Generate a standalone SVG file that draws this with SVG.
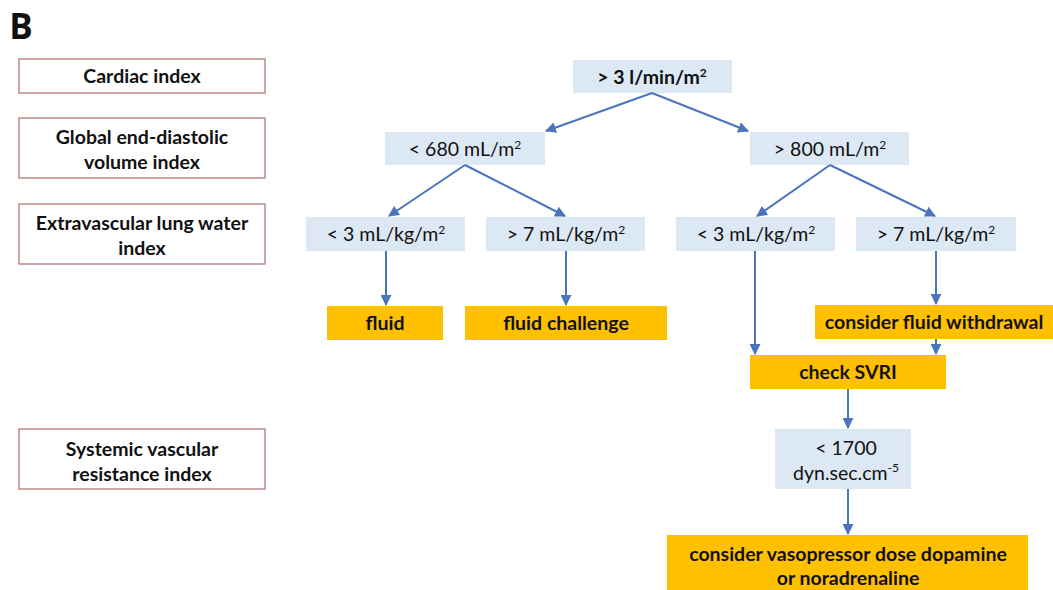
<svg xmlns="http://www.w3.org/2000/svg" width="1053" height="590" viewBox="0 0 1053 590">
<style>
text{font-family:Lato,"Open Sans","Liberation Sans",sans-serif;fill:#111;text-anchor:middle}
.lab rect{fill:#fff;stroke:#b07878;stroke-width:1.3}
.lab text{font-size:19.5px;font-weight:bold}
.blue rect{fill:#dce8f4}
.blue text{font-size:19.5px}
.org rect{fill:#ffc000}
.org text{font-size:19.5px;font-weight:bold}
.conn line{stroke:#4a74be;stroke-width:2;marker-end:url(#ah)}
</style>
<defs>
<marker id="ah" viewBox="0 0 10 10" refX="9" refY="5" markerWidth="5.5" markerHeight="5.5" orient="auto" markerUnits="strokeWidth">
<path d="M0,0 L10,5 L0,10 z" fill="#4a74be"/>
</marker>
</defs>
<rect width="1053" height="590" fill="#fff"/>
<text x="21" y="39" style="font-size:35px;font-weight:bold;font-family:'Open Sans','Liberation Sans',sans-serif">B</text>

<g id="lab-ci" class="lab"><rect x="19" y="59" width="246" height="34"/><text x="142" y="83">Cardiac index</text></g>
<g id="lab-gedvi" class="lab"><rect x="19" y="118" width="246" height="60"/><text x="142" y="144">Global end-diastolic</text><text x="142" y="169">volume index</text></g>
<g id="lab-evlwi" class="lab"><rect x="19" y="204" width="246" height="60"/><text x="142" y="230">Extravascular lung water</text><text x="142" y="255">index</text></g>
<g id="lab-svri" class="lab"><rect x="19" y="429" width="246" height="60"/><text x="142" y="456">Systemic vascular</text><text x="142" y="481">resistance index</text></g>

<g id="n-ci" class="blue"><rect x="573" y="60" width="159" height="33"/><text x="652" y="84" style="font-weight:bold">&gt; 3 l/min/m<tspan dy="-7" font-size="12">2</tspan></text></g>
<g id="n-g680" class="blue"><rect x="385" y="132" width="160" height="33"/><text x="465" y="156">&lt; 680 mL/m<tspan dy="-7" font-size="12">2</tspan></text></g>
<g id="n-g800" class="blue"><rect x="750" y="132" width="159" height="33"/><text x="830" y="156">&gt; 800 mL/m<tspan dy="-7" font-size="12">2</tspan></text></g>
<g id="n-e1" class="blue"><rect x="306" y="217" width="159" height="34"/><text x="386" y="241">&lt; 3 mL/kg/m<tspan dy="-7" font-size="12">2</tspan></text></g>
<g id="n-e2" class="blue"><rect x="486" y="217" width="159" height="34"/><text x="566" y="241">&gt; 7 mL/kg/m<tspan dy="-7" font-size="12">2</tspan></text></g>
<g id="n-e3" class="blue"><rect x="676" y="217" width="159" height="34"/><text x="756" y="241">&lt; 3 mL/kg/m<tspan dy="-7" font-size="12">2</tspan></text></g>
<g id="n-e4" class="blue"><rect x="856" y="217" width="160" height="34"/><text x="936" y="241">&gt; 7 mL/kg/m<tspan dy="-7" font-size="12">2</tspan></text></g>
<g id="n-fluid" class="org"><rect x="327" y="306" width="116" height="34"/><text x="385" y="330">fluid</text></g>
<g id="n-fc" class="org"><rect x="465" y="306" width="202" height="34"/><text x="566" y="330">fluid challenge</text></g>
<g id="n-fw" class="org"><rect x="815" y="305" width="238" height="34"/><text x="934" y="329">consider fluid withdrawal</text></g>
<g id="n-svri" class="org"><rect x="750" y="355" width="196" height="34"/><text x="848" y="379">check SVRI</text></g>
<g id="n-1700" class="blue"><rect x="775" y="429" width="136" height="60"/><text x="846" y="455">&lt; 1700</text><text x="846" y="480">dyn.sec.cm<tspan dy="-8" font-size="12">-5</tspan></text></g>
<g id="n-vaso" class="org"><rect x="667" y="535" width="361" height="55"/><text x="848" y="561">consider vasopressor dose dopamine</text><text x="848" y="585">or noradrenaline</text></g>

<g id="connectors" class="conn">
<line x1="652" y1="93" x2="546" y2="131"/>
<line x1="652" y1="93" x2="748" y2="131"/>
<line x1="465" y1="165" x2="389" y2="216"/>
<line x1="465" y1="165" x2="565" y2="216"/>
<line x1="830" y1="165" x2="757" y2="216"/>
<line x1="830" y1="165" x2="935" y2="216"/>
<line x1="386" y1="251" x2="386" y2="305"/>
<line x1="566" y1="251" x2="566" y2="305"/>
<line x1="936" y1="251" x2="936" y2="304"/>
<line x1="755" y1="251" x2="755" y2="354"/>
<line x1="936" y1="339" x2="936" y2="354"/>
<line x1="848" y1="389" x2="848" y2="428"/>
<line x1="848" y1="489" x2="848" y2="534"/>
</g>
</svg>
